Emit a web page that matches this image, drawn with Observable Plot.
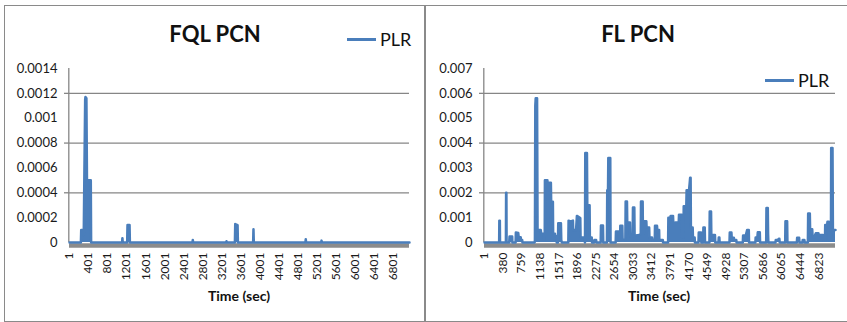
<!DOCTYPE html>
<html><head><meta charset="utf-8">
<script src="https://cdn.jsdelivr.net/npm/d3@7"></script>
<script src="https://cdn.jsdelivr.net/npm/@observablehq/plot@0.6"></script>
<style>
html,body{margin:0;padding:0;background:#fff;}
body{width:847px;height:322px;overflow:hidden;position:relative;font-family:Lato,"Open Sans",sans-serif;color:#111;}
.panel{position:absolute;top:5px;height:317px;border:1px solid #8a8a8a;box-sizing:border-box;}
.chart{position:absolute;top:0;}
.t{position:absolute;transform:translate(-50%,-50%);white-space:nowrap;line-height:1;}
.title{font-weight:bold;font-size:22px;}
.axt{font-weight:bold;font-size:14px;}
.leg{position:absolute;display:flex;align-items:center;transform:translateY(-50%);font-size:18px;line-height:1;}
.leg span.sw{display:inline-block;width:29px;height:3px;background:#4a7ebb;margin-right:4px;}
</style></head>
<body>
<div class="panel" style="left:4px;width:421px;"></div>
<div class="panel" style="left:425px;width:430px;"></div>
<div id="c1" class="chart" style="left:0px;"></div>
<div id="c2" class="chart" style="left:425px;"></div>
<div class="t title" style="left:215px;top:34px;">FQL PCN</div>
<div class="t title" style="left:638px;top:34px;">FL PCN</div>
<div class="leg" style="left:347px;top:39px;"><span class="sw"></span>PLR</div>
<div class="leg" style="left:765px;top:80px;"><span class="sw"></span>PLR</div>
<div class="t axt" style="left:239px;top:296px;">Time (sec)</div>
<div class="t axt" style="left:659px;top:296px;">Time (sec)</div>
<script>
// ---------- FQL PCN (left) ----------
const fqlXDomain = [1, 7140];
const fqlXTicks = [1, 401, 801, 1201, 1601, 2001, 2401, 2801, 3201, 3601, 4001, 4401, 4801, 5201, 5601, 6001, 6401, 6801];
const fqlYTicks = [0, 0.0002, 0.0004, 0.0006, 0.0008, 0.001, 0.0012, 0.0014];
const fqlYLabels = ["0", "0.0002", "0.0004", "0.0006", "0.0008", "0.001", "0.0012", "0.0014"];
const fqlGrid = [0.0004, 0.0008, 0.0012];
const fqlTime = [1, 240, 247, 288, 300, 330, 336, 356, 368, 448, 455,
  1105, 1112, 1119, 1212, 1219, 1262, 1269, 2583, 2590, 2597, 3290, 3297, 3304,
  3474, 3481, 3530, 3537, 3857, 3864, 3871, 4955, 4962, 4969, 5286, 5293, 5300, 7140];
const fqlPLR = [0, 0, 0.0001, 0.0001, 0.00006, 0.00115, 0.00117, 0.00116, 0.0005, 0.0005, 0,
  0, 0.000035, 0, 0, 0.00014, 0.00014, 0, 0, 0.00002, 0, 0, 0.00001, 0,
  0, 0.000148, 0.00014, 0, 0, 0.000107, 0, 0, 0.000027, 0, 0, 0.000015, 0, 0];

// ---------- FL PCN (right) ----------
const flXDomain = [1, 7165];
const flXTicks = [1, 380, 759, 1138, 1517, 1896, 2275, 2654, 3033, 3412, 3791, 4170, 4549, 4928, 5307, 5686, 6065, 6444, 6823];
const flYTicks = [0, 0.001, 0.002, 0.003, 0.004, 0.005, 0.006, 0.007];
const flYLabels = ["0", "0.001", "0.002", "0.003", "0.004", "0.005", "0.006", "0.007"];
const flGrid = [0.002, 0.004, 0.006];
const flTime = [1,
  300, 304, 314, 318,
  438, 442, 448, 452,
  506, 512, 566, 570,
  636, 641, 690, 700, 740, 746, 770, 776,
  1025, 1030, 1038, 1046, 1074, 1084, 1150, 1160, 1207, 1215, 1230, 1234, 1285, 1292, 1310, 1318, 1356, 1362, 1397, 1402, 1440, 1445, 1470, 1475,
  1500, 1506, 1561, 1568, 1580,
  1712, 1717, 1760, 1806, 1812, 1870, 1887, 1956, 1962, 2040, 2052, 2058, 2092, 2099, 2146, 2152, 2190, 2196,
  2240, 2245, 2280, 2285,
  2372, 2378, 2419, 2425,
  2500, 2506, 2522, 2528, 2568, 2574,
  2678, 2684, 2746, 2752, 2768, 2773, 2814, 2820, 2876, 2882, 2909, 2915, 2970, 2976, 3025, 3031, 3059, 3065, 3150, 3190, 3195, 3229, 3235, 3258, 3263, 3304, 3310, 3362, 3368, 3420, 3426, 3476, 3481, 3522, 3528, 3565, 3570, 3640, 3646,
  3748, 3754, 3794, 3800, 3849, 3855, 3890, 3895, 3965, 3971, 4026, 4032, 4062, 4067, 4120, 4126, 4176, 4198, 4208, 4214, 4250, 4256, 4290, 4296,
  4368, 4374, 4421, 4427,
  4463, 4469, 4496, 4502,
  4592, 4598, 4625, 4631, 4705, 4711,
  4776, 4782, 4795, 4800,
  5001, 5007, 5041, 5047, 5090, 5096, 5140, 5146,
  5273, 5279, 5334, 5361, 5395, 5401,
  5530, 5535, 5570, 5579, 5620, 5626,
  5750, 5756, 5783, 5789, 5795,
  5940, 5946, 5990, 6008, 6020, 6026,
  6138, 6144, 6178, 6184,
  6376, 6382, 6423, 6429,
  6490, 6496, 6530, 6536,
  6601, 6607, 6641, 6647, 6690, 6696, 6730, 6763, 6817, 6823, 6910, 6916, 6950, 6955, 6995, 7001, 7030, 7036, 7072, 7077, 7104, 7112, 7165];
const flPLR = [0,
  0, 0.00088, 0.00088, 0,
  0, 0.002, 0.002, 0,
  0, 0.00024, 0.00024, 0,
  0, 0.0004, 0.00038, 0.00021, 0.00021, 0.0001, 0.0001, 0,
  0, 0.0001, 0.0055, 0.0058, 0.0058, 0.0005, 0.0005, 0.00035, 0.00035, 0.0001, 0.0001, 0.0025, 0.0025, 0.00075, 0.00075, 0.0024, 0.0024, 0.00164, 0.00164, 0.00035, 0.00035, 0.00025, 0.00025, 0,
  0, 0.00077, 0.00077, 0.0001, 0,
  0, 0.00088, 0.00085, 0.00088, 0.0005, 0.0005, 0.00107, 0.00098, 0.0002, 0.0002, 0, 0.0036, 0.0036, 0.0015, 0.0015, 0.0002, 0.0002, 0,
  0, 0.0001, 0.0001, 0,
  0, 0.00068, 0.00068, 0,
  0, 0.0021, 0.0021, 0.0034, 0.0034, 0,
  0, 0.00044, 0.00044, 0.0001, 0.0001, 0.00067, 0.00067, 0.00012, 0.0001, 0.00165, 0.00165, 0.0008, 0.0008, 0.00025, 0.00025, 0.00141, 0.00141, 0.00027, 0.0003, 0.00032, 0.00165, 0.00165, 0.00035, 0.00035, 0.00085, 0.00085, 0.0006, 0.0006, 0.0002, 0.0002, 0.0001, 0.0001, 0.00067, 0.00067, 0.0005, 0.0005, 0.0001, 0.0001, 0,
  0, 0.001, 0.001, 0.00107, 0.00107, 0.00077, 0.00077, 0.0008, 0.0008, 0.00112, 0.00112, 0.0002, 0.0002, 0.00146, 0.00146, 0.0021, 0.0021, 0.0026, 0.0026, 0.0006, 0.0006, 0.0002, 0.0002, 0,
  0, 0.0004, 0.0004, 0,
  0, 0.0006, 0.0006, 0,
  0, 0.00125, 0.00125, 0.0003, 0.0003, 0,
  0, 0.0002, 0.0002, 0,
  0, 0.0004, 0.0004, 0.00019, 0.00019, 0.0001, 0.0001, 0,
  0, 0.00028, 0.00028, 0.0005, 0.0005, 0,
  0, 0.0002, 0.0002, 0.00041, 0.00041, 0,
  0, 0.00139, 0.00139, 0.00035, 0,
  0, 0.0001, 0.0001, 0.00015, 0.00015, 0,
  0, 0.00085, 0.00085, 0,
  0, 0.00019, 0.00019, 0,
  0, 0.0001, 0.0001, 0,
  0, 0.00117, 0.00117, 0.00053, 0.00053, 0.0003, 0.0002, 0.00037, 0.00037, 0.0003, 0.0003, 0.0001, 0.0001, 0.0007, 0.0007, 0.00083, 0.00083, 0.0001, 0.0001, 0.0038, 0.0038, 0.0005, 0.0005];

const BLUE = "#4a7ebb", GRID = "#868686", AXIS = "#8c8c8c";
const FONT = "Lato, 'Open Sans', sans-serif";

function chart({width, marginLeft, marginRight, xDomain, xTicks, yTicks, yLabels, grid, time, plr}) {
  const data = time.map((t, i) => ({t, v: plr[i]}));
  const yDomain = [yTicks[0], yTicks[yTicks.length - 1]];
  return Plot.plot({
    width, height: 322,
    marginLeft, marginRight, marginTop: 68, marginBottom: 80,
    style: {fontFamily: FONT, background: "transparent", color: "#1a1a1a", overflow: "visible"},
    x: {type: "linear", domain: xDomain},
    y: {type: "linear", domain: yDomain},
    marks: [
      Plot.ruleY(grid, {stroke: GRID, strokeWidth: 1.3}),
      Plot.ruleX([xDomain[0]], {y1: yDomain[0], y2: yDomain[1], stroke: GRID, strokeWidth: 1.3, dx: -0.7}),
      Plot.axisY({ticks: grid, tickSize: 5, tickFormat: () => "", stroke: GRID, strokeWidth: 1.3, strokeOpacity: 1, label: null}),
      Plot.axisY({ticks: yTicks, tickSize: 0, tickPadding: 12, fontSize: 13, tickFormat: d => yLabels[yTicks.indexOf(d)], label: null}),
      Plot.axisX({ticks: xTicks, tickSize: 0, tickPadding: 10, tickRotate: -90, fontSize: 12, tickFormat: d => String(d), label: null}),
      Plot.ruleY([0], {stroke: AXIS, strokeWidth: 4.5, dy: 3}),
      Plot.areaY(data, {x: "t", y: "v", fill: BLUE}),
      Plot.lineY(data, {x: "t", y: "v", stroke: BLUE, strokeWidth: 2.5, strokeLinejoin: "round"})
    ]
  });
}

document.getElementById("c1").append(chart({
  width: 425, marginLeft: 69, marginRight: 16,
  xDomain: fqlXDomain, xTicks: fqlXTicks, yTicks: fqlYTicks, yLabels: fqlYLabels,
  grid: fqlGrid, time: fqlTime, plr: fqlPLR
}));
document.getElementById("c2").append(chart({
  width: 422, marginLeft: 59, marginRight: 12,
  xDomain: flXDomain, xTicks: flXTicks, yTicks: flYTicks, yLabels: flYLabels,
  grid: flGrid, time: flTime, plr: flPLR
}));
</script>
</body></html>
